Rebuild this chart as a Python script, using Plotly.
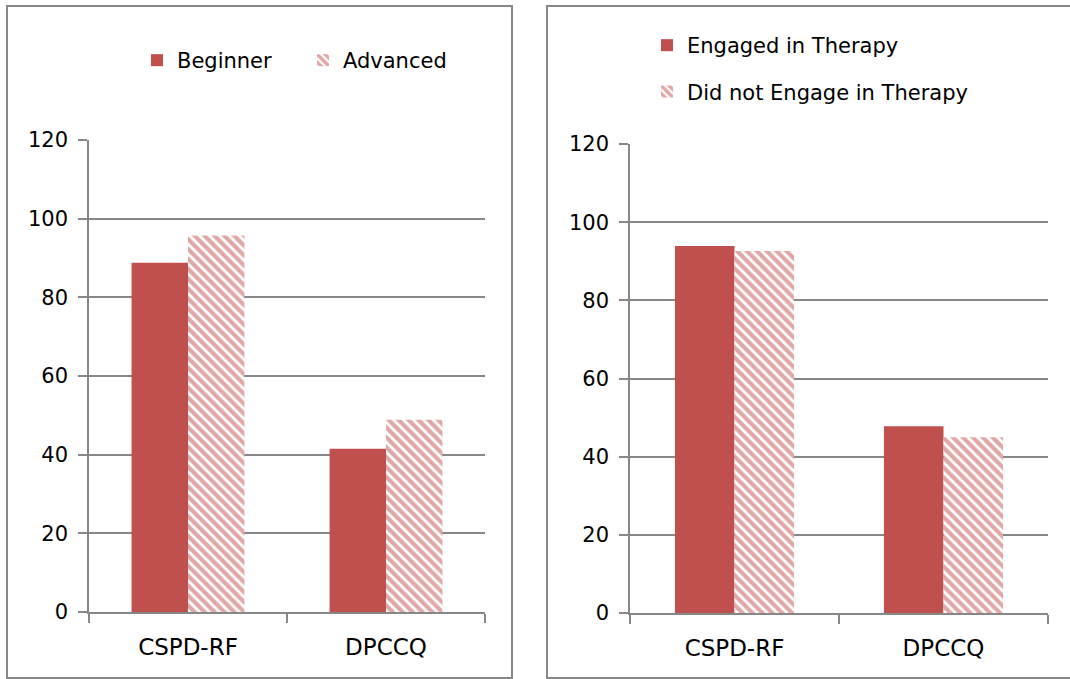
import plotly.graph_objects as go

categories = ["CSPD-RF", "DPCCQ"]
left_names = ["Beginner", "Advanced"]
beginner = [88.8, 41.5]
advanced = [95.7, 48.9]
right_names = ["Engaged in Therapy", "Did not Engage in Therapy"]
engaged = [93.9, 47.8]
not_engaged = [92.6, 45.0]
y_ticks = [0, 20, 40, 60, 80, 100, 120]

RED = "#C0504D"
GRAY = "#878787"
FONT = "DejaVu Sans"
W, H = 1070, 679

def px(x):
    return x / W

def py(y):
    return 1 - y / H

solid = dict(color=RED, line=dict(width=0))
hatch = dict(color=RED, line=dict(width=0),
             pattern=dict(shape="\\", fgcolor=RED, bgcolor="white", size=7, solidity=0.6))

fig = go.Figure()
fig.add_trace(go.Bar(x=categories, y=beginner, name=left_names[0], marker=solid,
                     xaxis="x", yaxis="y", legend="legend"))
fig.add_trace(go.Bar(x=categories, y=advanced, name=left_names[1], marker=hatch,
                     xaxis="x", yaxis="y", legend="legend"))
fig.add_trace(go.Bar(x=categories, y=engaged, name=right_names[0], marker=solid,
                     xaxis="x2", yaxis="y2", legend="legend2", legendgroup="g1"))
fig.add_trace(go.Bar(x=categories, y=not_engaged, name=right_names[1], marker=hatch,
                     xaxis="x2", yaxis="y2", legend="legend2", legendgroup="g2"))

xcommon = dict(showgrid=False, showline=True, linecolor=GRAY, linewidth=1.5,
               ticks="outside", tickson="boundaries", ticklen=9, tickcolor=GRAY, tickwidth=1.5,
               tickfont=dict(family=FONT, size=23, color="black"), ticklabelstandoff=14,
               automargin=False, fixedrange=True)
ycommon = dict(range=[0, 120], tickvals=y_ticks, showgrid=True, gridcolor=GRAY, gridwidth=1.5,
               showline=True, linecolor=GRAY, linewidth=1.5, zeroline=False,
               ticks="outside", ticklen=9, tickcolor=GRAY, tickwidth=1.5,
               tickfont=dict(family=FONT, size=21, color="black"), ticklabelstandoff=6,
               automargin=False, fixedrange=True)

fig.update_layout(
    width=W, height=H,
    margin=dict(l=0, r=0, t=0, b=0, pad=0, autoexpand=False),
    paper_bgcolor="white", plot_bgcolor="white",
    barmode="group", bargap=0.43, bargroupgap=0,
    xaxis=dict(domain=[px(89), px(485)], anchor="y", **xcommon),
    yaxis=dict(domain=[py(612), py(140)], anchor="x", **ycommon),
    xaxis2=dict(domain=[px(630), px(1048)], anchor="y2", **xcommon),
    yaxis2=dict(domain=[py(613), py(144)], anchor="x2", **ycommon),
    legend=dict(orientation="h", x=px(137), y=py(40), xanchor="left", yanchor="top",
                font=dict(family=FONT, size=21, color="black"), bgcolor="rgba(0,0,0,0)",
                entrywidth=121, entrywidthmode="pixels", itemclick=False, itemdoubleclick=False),
    legend2=dict(orientation="v", x=px(647), y=py(25), xanchor="left", yanchor="top",
                 font=dict(family=FONT, size=21, color="black"), bgcolor="rgba(0,0,0,0)",
                 traceorder="grouped", tracegroupgap=16, itemclick=False, itemdoubleclick=False),
    showlegend=True,
    shapes=[
        dict(type="rect", xref="paper", yref="paper", x0=px(7), x1=px(512), y0=py(678), y1=py(6),
             line=dict(color=GRAY, width=2), fillcolor="rgba(0,0,0,0)", layer="below"),
        dict(type="rect", xref="paper", yref="paper", x0=px(547), x1=px(1075), y0=py(678), y1=py(6),
             line=dict(color=GRAY, width=2), fillcolor="rgba(0,0,0,0)", layer="below"),
    ],
)

fig.write_html("out.html", config={"displayModeBar": False},
               post_script="document.body.style.margin='0';document.body.style.overflow='hidden';")
